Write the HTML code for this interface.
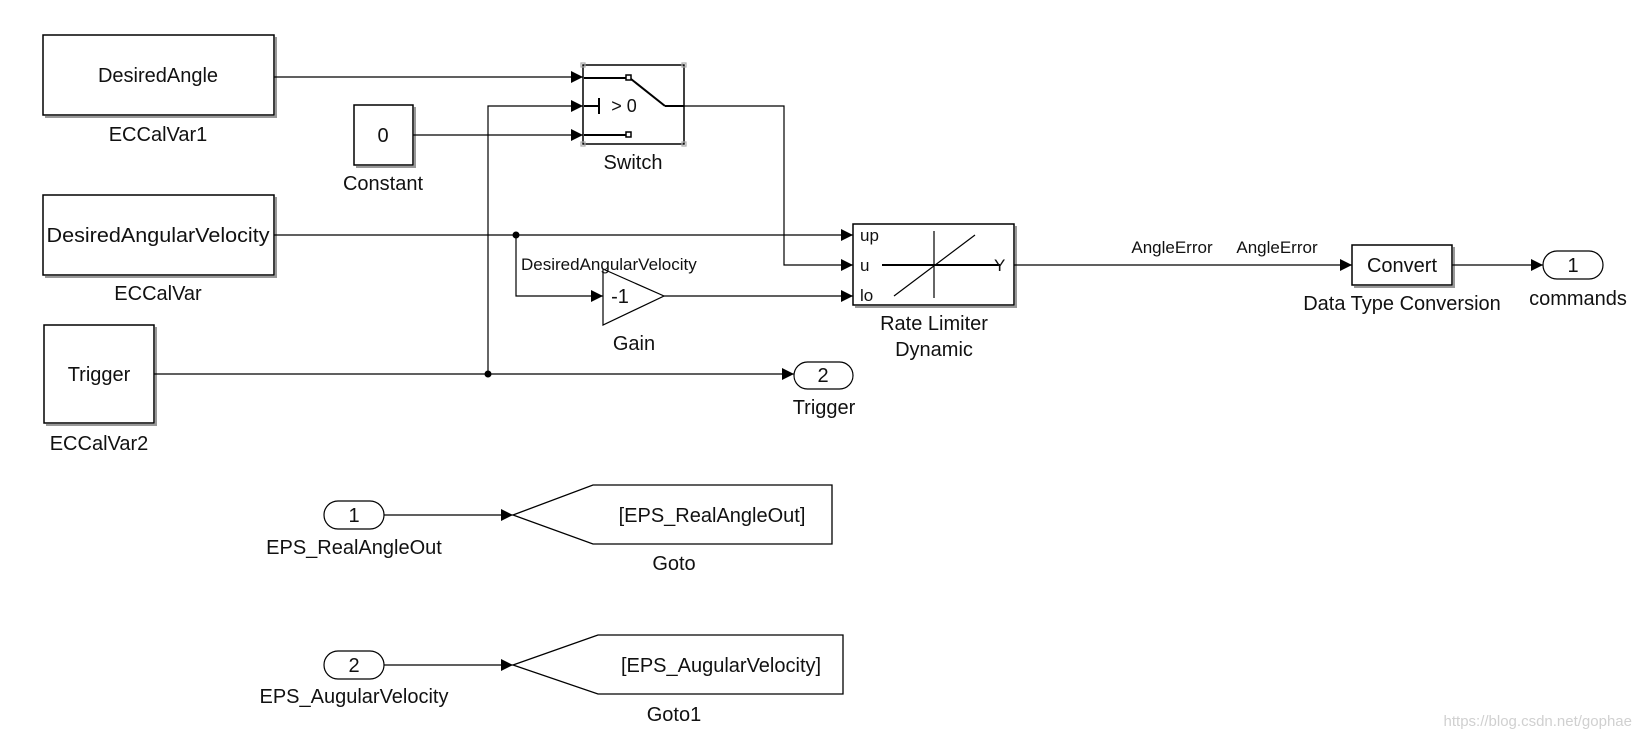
<!DOCTYPE html>
<html><head><meta charset="utf-8"><style>
html,body{margin:0;padding:0;background:#fff;}
svg{display:block;}
text{font-family:"Liberation Sans",sans-serif;fill:#111;}
</style></head><body>
<svg width="1639" height="739" viewBox="0 0 1639 739" xmlns="http://www.w3.org/2000/svg">
<defs>
<marker id="a" viewBox="0 0 10 10" refX="10" refY="5" markerWidth="12" markerHeight="12" markerUnits="userSpaceOnUse" orient="auto"><path d="M0,0L10,5L0,10z" fill="#000"/></marker>
</defs>
<g fill="none" stroke="#000" stroke-width="1.2">
<g stroke="#999" stroke-width="2">
<polyline points="276,37 276,117 45,117"/>
<polyline points="276,197 276,277 45,277"/>
<polyline points="156,327 156,425 46,425"/>
<polyline points="415,107 415,167 356,167"/>
<polyline points="1016,226 1016,307 855,307"/>
<polyline points="1454,247 1454,287 1354,287"/>
</g>
<rect x="43" y="35" width="231" height="80" stroke-width="1.5"/>
<rect x="43" y="195" width="231" height="80" stroke-width="1.5"/>
<rect x="44" y="325" width="110" height="98" stroke-width="1.5"/>
<rect x="354" y="105" width="59" height="60" stroke-width="1.5"/>
<rect x="583" y="65" width="101" height="79" stroke-width="1.5"/>
<rect x="853" y="224" width="161" height="81" stroke-width="1.5"/>
<rect x="1352" y="245" width="100" height="40" stroke-width="1.5"/>
<polygon points="603,269 664,296 603,325" stroke-width="1.2"/>
<rect x="1543" y="251" width="60" height="28" rx="14"/>
<rect x="794" y="362" width="59" height="27" rx="13.5"/>
<rect x="324" y="501" width="60" height="28" rx="14"/>
<rect x="324" y="651" width="60" height="28" rx="14"/>
<polygon points="513,515 593,485 832,485 832,544 593,544" stroke-width="1.3"/>
<polygon points="513,665 598,635 843,635 843,694 598,694" stroke-width="1.3"/>
<g stroke-width="2">
<line x1="584" y1="78" x2="626" y2="78"/>
<rect x="626" y="75" width="5" height="5" stroke-width="1.5"/>
<line x1="631" y1="79" x2="665" y2="106"/>
<line x1="665" y1="106" x2="684" y2="106"/>
<line x1="584" y1="106" x2="599" y2="106"/>
<line x1="599" y1="98" x2="599" y2="114"/>
<line x1="584" y1="135" x2="626" y2="135"/>
<rect x="626" y="132" width="5" height="5" stroke-width="1.5"/>
</g>
<g stroke="#aaa" stroke-width="1.2">
<rect x="581" y="63" width="4" height="4"/><rect x="682" y="63" width="4" height="4"/>
<rect x="581" y="142" width="4" height="4"/><rect x="682" y="142" width="4" height="4"/>
</g>
<line x1="882" y1="265" x2="1000" y2="265" stroke-width="2"/>
<line x1="934" y1="231" x2="934" y2="298"/>
<line x1="894" y1="296" x2="975" y2="235"/>
<line x1="274" y1="77" x2="583" y2="77" marker-end="url(#a)"/>
<polyline points="488,374 488,106 583,106" marker-end="url(#a)"/>
<line x1="413" y1="135" x2="583" y2="135" marker-end="url(#a)"/>
<polyline points="684,106 784,106 784,265 853,265" marker-end="url(#a)"/>
<line x1="274" y1="235" x2="853" y2="235" marker-end="url(#a)"/>
<polyline points="516,235 516,296 603,296" marker-end="url(#a)"/>
<line x1="664" y1="296" x2="853" y2="296" marker-end="url(#a)"/>
<line x1="154" y1="374" x2="794" y2="374" marker-end="url(#a)"/>
<line x1="1014" y1="265" x2="1352" y2="265" marker-end="url(#a)"/>
<line x1="1452" y1="265" x2="1543" y2="265" marker-end="url(#a)"/>
<line x1="384" y1="515" x2="513" y2="515" marker-end="url(#a)"/>
<line x1="384" y1="665" x2="513" y2="665" marker-end="url(#a)"/>
</g>
<circle cx="516" cy="235" r="3.5"/>
<circle cx="488" cy="374" r="3.5"/>
<g font-size="20" text-anchor="middle">
<text x="158" y="82">DesiredAngle</text>
<text x="158" y="242" textLength="223" lengthAdjust="spacingAndGlyphs">DesiredAngularVelocity</text>
<text x="99" y="381">Trigger</text>
<text x="383" y="142">0</text>
<text x="1402" y="272">Convert</text>
<text x="1573" y="272">1</text>
<text x="823" y="382">2</text>
<text x="354" y="522">1</text>
<text x="354" y="672">2</text>
<text x="620" y="303">-1</text>
<text x="624" y="112" font-size="18">&gt; 0</text>
<text x="712" y="522">[EPS_RealAngleOut]</text>
<text x="721" y="672">[EPS_AugularVelocity]</text>
<text x="158" y="141">ECCalVar1</text>
<text x="158" y="300">ECCalVar</text>
<text x="99" y="450">ECCalVar2</text>
<text x="383" y="190">Constant</text>
<text x="633" y="169">Switch</text>
<text x="634" y="350">Gain</text>
<text x="934" y="330">Rate Limiter</text>
<text x="934" y="356">Dynamic</text>
<text x="1402" y="310">Data Type Conversion</text>
<text x="1578" y="305">commands</text>
<text x="824" y="414">Trigger</text>
<text x="354" y="554">EPS_RealAngleOut</text>
<text x="354" y="703">EPS_AugularVelocity</text>
<text x="674" y="570">Goto</text>
<text x="674" y="721">Goto1</text>
</g>
<g font-size="17">
<text x="860" y="241">up</text>
<text x="860" y="271">u</text>
<text x="860" y="301">lo</text>
<text x="994" y="271">Y</text>
<text x="521" y="270">DesiredAngularVelocity</text>
<text x="1172" y="253" text-anchor="middle">AngleError</text>
<text x="1277" y="253" text-anchor="middle">AngleError</text>
</g>
<text x="1632" y="726" font-size="15" text-anchor="end" style="fill:#d0d0d0">https://blog.csdn.net/gophae</text>
</svg>
</body></html>
